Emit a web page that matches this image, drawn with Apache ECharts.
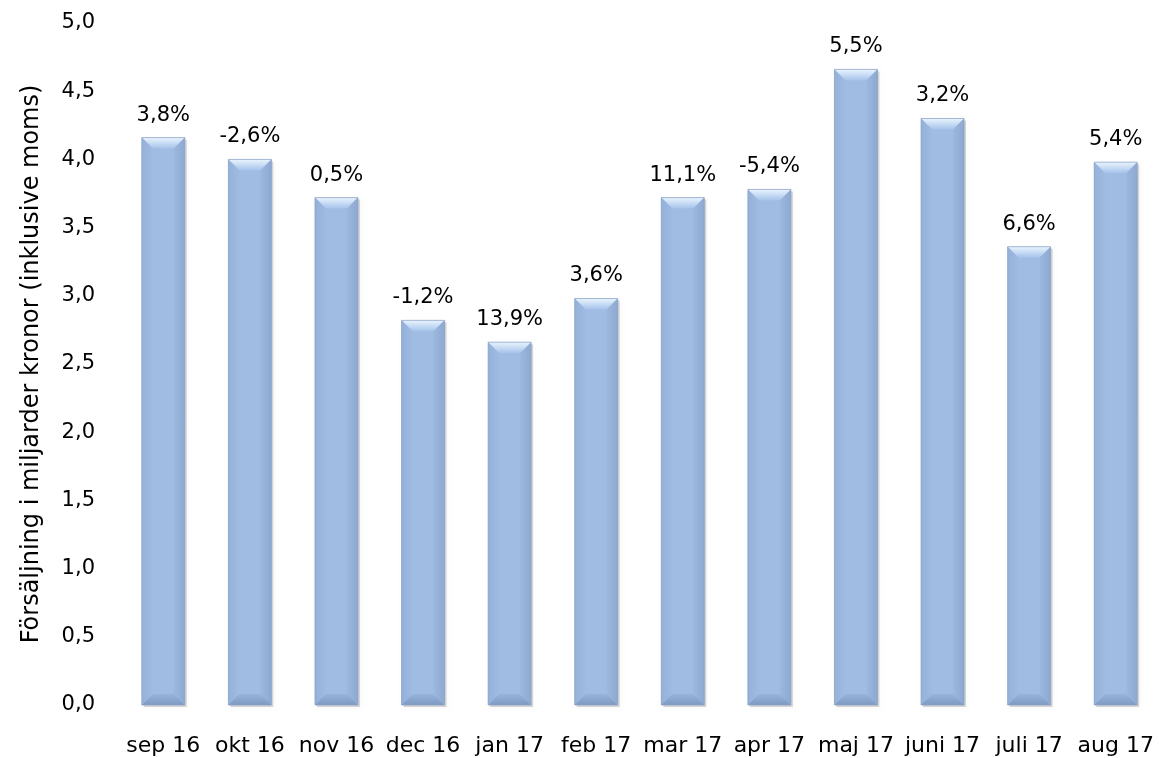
<!DOCTYPE html>
<html><head><meta charset="utf-8">
<script src="https://cdn.jsdelivr.net/npm/echarts@6/dist/echarts.min.js"></script>
<style>html,body{margin:0;padding:0;background:#fff}#c{width:1159px;height:758px}</style>
</head><body><div id="c"></div>
<script>
const categories = ['sep 16','okt 16','nov 16','dec 16','jan 17','feb 17','mar 17','apr 17','maj 17','juni 17','juli 17','aug 17'];
const sales = [4.16, 4.00, 3.72, 2.82, 2.66, 2.98, 3.72, 3.78, 4.66, 4.30, 3.36, 3.98];
const changeLabels = ['3,8%','-2,6%','0,5%','-1,2%','13,9%','3,6%','11,1%','-5,4%','5,5%','3,2%','6,6%','5,4%'];

const chart = echarts.init(document.getElementById('c'));
const font = 'DejaVu Sans';
const fw = 'normal';
const BW = 43, BV = 11;
function renderItem(params, api){
  const i = api.value(0), v = api.value(1);
  const top = api.coord([i, v]), base = api.coord([i, 0]);
  const x0 = top[0]-BW/2, x1 = top[0]+BW/2, y0 = top[1], y1 = base[1];
  const b = Math.min(BV, (y1-y0)/2);
  const poly = (pts, fill) => ({type:'polygon', shape:{points:pts}, style:{fill:fill}});
  return {type:'group', children:[
    {type:'rect', shape:{x:x0+2, y:y0+2, width:BW, height:y1-y0}, style:{fill:'rgba(0,0,0,0.15)', shadowBlur:4, shadowColor:'rgba(0,0,0,0.3)'}},
    {type:'rect', shape:{x:x0, y:y0, width:BW, height:y1-y0}, style:{fill:'#a0bce3'}},
    poly([[x0,y0],[x1,y0],[x1-b,y0+b],[x0+b,y0+b]], {type:'linear',x:0,y:0,x2:0,y2:1,colorStops:[{offset:0,color:'#eaf3fc'},{offset:0.5,color:'#c7dcf5'},{offset:1,color:'#a6c2ea'}]}),
    poly([[x0,y0],[x0+b,y0+b],[x0+b,y1-b],[x0,y1]], {type:'linear',x:0,y:0,x2:1,y2:0,colorStops:[{offset:0,color:'#95b1d9'},{offset:1,color:'#9fbbe2'}]}),
    poly([[x1,y0],[x1-b,y0+b],[x1-b,y1-b],[x1,y1]], {type:'linear',x:0,y:0,x2:1,y2:0,colorStops:[{offset:0,color:'#9cb8df'},{offset:1,color:'#8ea9d1'}]}),
    poly([[x0,y1],[x0+b,y1-b],[x1-b,y1-b],[x1,y1]], {type:'linear',x:0,y:0,x2:0,y2:1,colorStops:[{offset:0,color:'#98b4db'},{offset:1,color:'#7f9ac2'}]}),
    {type:'rect', shape:{x:x0, y:y0, width:BW, height:y1-y0}, style:{fill:'none', stroke:'#8aa2c6', lineWidth:0.7}},
    {type:'text', x:top[0], y:y0-12, style:{text:changeLabels[i], fill:'#000', font:fw+' 21px "'+font+'"', align:'center', verticalAlign:'bottom'}}
  ]};
}
chart.setOption({
  animation:false,
  grid:{left:120,right:-4,top:23,bottom:53,containLabel:false},
  xAxis:{type:'category',data:categories,
    axisLine:{show:false},axisTick:{show:false},
    axisLabel:{color:'#000',fontSize:22,fontWeight:fw,fontFamily:font,margin:30,interval:0,hideOverlap:false}},
  yAxis:{type:'value',min:0,max:5,interval:0.5,
    name:'Försäljning i miljarder kronor (inklusive moms)',nameLocation:'middle',nameGap:76,
    nameTextStyle:{color:'#000',fontSize:24,fontWeight:fw,fontFamily:font},
    axisLine:{show:false},axisTick:{show:false},splitLine:{show:false},
    axisLabel:{color:'#000',fontSize:21,fontWeight:fw,fontFamily:font,margin:25,
      formatter:v=>v.toFixed(1).replace('.',',')}},
  series:[{type:'custom',renderItem:renderItem,
    data:sales.map((v,i)=>[i,v]),encode:{x:0,y:1}}]
});
</script></body></html>
